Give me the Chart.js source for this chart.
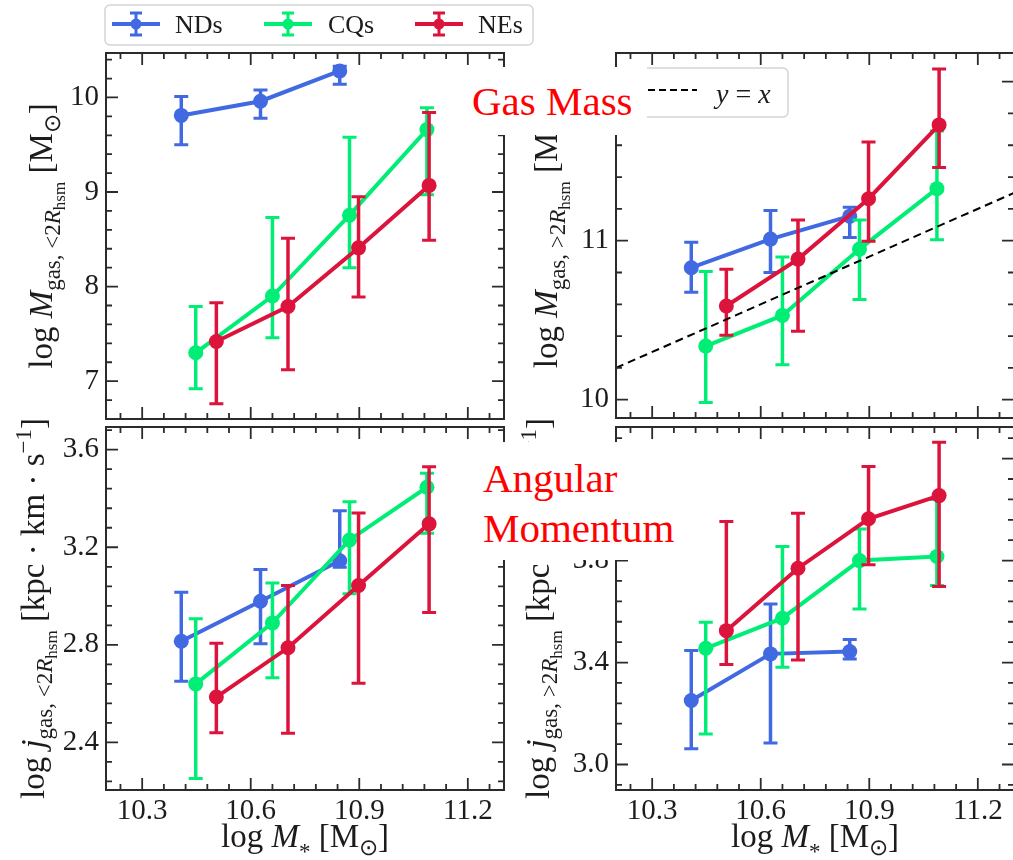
<!DOCTYPE html>
<html>
<head>
<meta charset="utf-8">
<script src="https://cdn.jsdelivr.net/npm/chart.js@4.4.1/dist/chart.umd.min.js"></script>
<style>
    html, body { margin: 0; padding: 0; background: #fff; }
    #wrap { position: relative; width: 1013px; height: 860px; overflow: hidden; background: #fff; }
    #wrap canvas { position: absolute; left: 0; top: 0; }
    .note {
        position: absolute; background: #fff; color: #ff0000; box-sizing: border-box;
        font-family: "Liberation Serif", serif; font-size: 41px; line-height: 50px; white-space: nowrap;
    }
</style>
</head>
<body>
<div id="wrap">
    <canvas id="cTL" width="1013" height="860"></canvas>
    <canvas id="cTR" width="1016" height="860"></canvas>
    <canvas id="cBL" width="1013" height="860"></canvas>
    <canvas id="cBR" width="1016" height="860"></canvas>
    <div class="note" style="left:455px;top:67px;width:192px;height:68px;padding:9px 0 0 17px;">Gas Mass</div>
    <div class="note" style="left:470px;top:442px;width:220px;height:118px;padding:11px 0 0 13px;">Angular<br>Momentum</div>
</div>
<script>
(function() {
    'use strict';

    /* ---- Data ---- */
    var groupNames = ['NDs', 'CQs', 'NEs'];
    var groupColors = ['#4169e1', '#00ee76', '#dc143c'];

    // log M* bin centres of each population
    var xND = [10.408, 10.627, 10.846];
    var xCQ = [10.448, 10.660, 10.873, 11.087];
    var xNE = [10.505, 10.703, 10.898, 11.093];

    // log M_gas inside 2 R_hsm
    var mInND = [9.81, 9.96, 10.28];
    var mInNDLo = [9.50, 9.78, 10.14];
    var mInNDHi = [10.01, 10.08, 10.33];
    var mInCQ = [7.30, 7.90, 8.755, 9.66];
    var mInCQLo = [6.92, 7.46, 8.20, 8.97];
    var mInCQHi = [7.79, 8.73, 9.58, 9.89];
    var mInNE = [7.42, 7.79, 8.41, 9.07];
    var mInNELo = [6.76, 7.12, 7.89, 8.49];
    var mInNEHi = [7.83, 8.51, 8.95, 9.84];

    // log M_gas outside 2 R_hsm
    var mOutND = [10.83, 11.01, 11.154];
    var mOutNDLo = [10.675, 10.80, 11.02];
    var mOutNDHi = [10.99, 11.19, 11.21];
    var mOutCQ = [10.337, 10.53, 10.947, 11.327];
    var mOutCQLo = [9.983, 10.22, 10.63, 11.006];
    var mOutCQHi = [10.806, 10.897, 11.13, 11.69];
    var mOutNE = [10.589, 10.884, 11.264, 11.728];
    var mOutNELo = [10.405, 10.43, 10.996, 11.46];
    var mOutNEHi = [10.82, 11.13, 11.62, 12.08];

    // log j_gas inside 2 R_hsm
    var jInND = [2.815, 2.979, 3.145];
    var jInNDLo = [2.651, 2.804, 3.118];
    var jInNDHi = [3.016, 3.109, 3.35];
    var jInCQ = [2.64, 2.89, 3.23, 3.446];
    var jInCQLo = [2.252, 2.665, 3.009, 3.257];
    var jInCQHi = [2.907, 3.054, 3.387, 3.503];
    var jInNE = [2.586, 2.788, 3.043, 3.296];
    var jInNELo = [2.44, 2.438, 2.643, 2.933];
    var jInNEHi = [2.807, 3.043, 3.34, 3.53];

    // log j_gas outside 2 R_hsm
    var jOutND = [3.251, 3.434, 3.443];
    var jOutNDLo = [3.062, 3.084, 3.414];
    var jOutNDHi = [3.447, 3.63, 3.49];
    var jOutCQ = [3.456, 3.574, 3.80, 3.816];
    var jOutCQLo = [3.12, 3.382, 3.61, 3.702];
    var jOutCQHi = [3.558, 3.855, 3.924, 4.04];
    var jOutNE = [3.525, 3.77, 3.964, 4.055];
    var jOutNELo = [3.392, 3.41, 3.784, 3.698];
    var jOutNEHi = [3.953, 3.986, 4.169, 4.264];

    var identityLine = [10.2, 11.3];

    /* ---- Axis ticks ---- */
    var xTicks = [10.3, 10.6, 10.9, 11.2];
    var yTicksTL = [7, 8, 9, 10];
    var yTicksTR = [10, 11, 12];
    var yTicksBL = [2.4, 2.8, 3.2, 3.6];
    var yTicksBR = [3.0, 3.4, 3.8, 4.2];

    var INK = '#1c1c1c';
    var MATH = '"Liberation Serif", serif';
    var TICKFONT = '"Liberation Serif", serif';
    var LABEL_SIZE = 33;

    function minorTicks(majors, step, min, max) {
        var out = [], v;
        for (v = majors[0] - step; v > min + 1e-6; v -= step) out.push(v);
        for (v = majors[0] + step; v < max - 1e-6; v += step) out.push(v);
        return out;
    }

    function fontOf(p, size) {
        return (p.it ? 'italic ' : '') + Math.round(size * (p.s || 1)) + 'px ' + MATH;
    }

    // rich (sub/superscript) label, centred on (x, y) baseline
    function drawRich(ctx, parts, size, x, y, rot, align) {
        ctx.save();
        ctx.translate(x, y);
        if (rot) ctx.rotate(rot);
        ctx.fillStyle = INK;
        ctx.textAlign = 'left';
        ctx.textBaseline = 'alphabetic';
        var total = 0;
        parts.forEach(function(p) { ctx.font = fontOf(p, size); p.w = ctx.measureText(p.t).width; total += p.w; });
        var cx = align === 'left' ? 0 : -total / 2;
        parts.forEach(function(p) {
            ctx.font = fontOf(p, size);
            ctx.fillText(p.t, cx, (p.dy || 0) * size);
            cx += p.w;
        });
        ctx.restore();
    }

    function roundBox(ctx, x, y, w, h, r) {
        ctx.beginPath();
        if (ctx.roundRect) ctx.roundRect(x, y, w, h, r); else ctx.rect(x, y, w, h);
        ctx.fillStyle = 'rgba(255,255,255,0.85)';
        ctx.fill();
        ctx.strokeStyle = '#d4d4d4';
        ctx.lineWidth = 1.5;
        ctx.stroke();
    }

    /* ---- Plugins ---- */
    var errorBarPlugin = {
        id: 'errorBars',
        beforeDatasetDraw: function(chart, args) {
            var ds = chart.data.datasets[args.index];
            if (!ds.errLo) return;
            var sx = chart.scales.x, sy = chart.scales.y, ctx = chart.ctx;
            ctx.save();
            ctx.strokeStyle = ds.borderColor;
            ds.data.forEach(function(p, i) {
                var px = sx.getPixelForValue(p.x);
                var y0 = sy.getPixelForValue(ds.errLo[i]);
                var y1 = sy.getPixelForValue(ds.errHi[i]);
                ctx.lineWidth = 3.5;
                ctx.beginPath(); ctx.moveTo(px, y0); ctx.lineTo(px, y1); ctx.stroke();
                ctx.lineWidth = 3;
                ctx.beginPath();
                ctx.moveTo(px - 7, y0); ctx.lineTo(px + 7, y0);
                ctx.moveTo(px - 7, y1); ctx.lineTo(px + 7, y1);
                ctx.stroke();
            });
            ctx.restore();
        }
    };

    var framePlugin = {
        id: 'frame',
        afterDatasetsDraw: function(chart, args, o) {
            var a = chart.chartArea, ctx = chart.ctx, sx = chart.scales.x, sy = chart.scales.y;
            ctx.save();
            ctx.strokeStyle = '#2b2b2b';
            ctx.lineWidth = 2;
            ctx.strokeRect(a.left, a.top, a.right - a.left, a.bottom - a.top);
            ctx.lineWidth = 1.8;
            ctx.beginPath();
            function tx(v, len) {
                var p = sx.getPixelForValue(v);
                ctx.moveTo(p, a.bottom); ctx.lineTo(p, a.bottom - len);
                ctx.moveTo(p, a.top); ctx.lineTo(p, a.top + len);
            }
            function ty(v, len) {
                var p = sy.getPixelForValue(v);
                ctx.moveTo(a.left, p); ctx.lineTo(a.left + len, p);
                ctx.moveTo(a.right, p); ctx.lineTo(a.right - len, p);
            }
            xTicks.forEach(function(v) { tx(v, 12); });
            minorTicks(xTicks, 0.06, sx.min, sx.max).forEach(function(v) { tx(v, 6); });
            o.yTicks.forEach(function(v) { ty(v, 12); });
            minorTicks(o.yTicks, o.yMinor, sy.min, sy.max).forEach(function(v) { ty(v, 6); });
            ctx.stroke();
            ctx.restore();
        },
        afterDraw: function(chart, args, o) {
            var a = chart.chartArea, ctx = chart.ctx;
            drawRich(ctx, o.ylabel, LABEL_SIZE, o.ylabelX, (a.top + a.bottom) / 2, -Math.PI / 2);
            if (o.xlabel) drawRich(ctx, o.xlabel, LABEL_SIZE, (a.left + a.right) / 2, 847, 0);
            if (o.mainLegend) drawMainLegend(ctx);
            if (o.identityLegend) drawIdentityLegend(ctx);
        }
    };

    function drawMainLegend(ctx) {
        var hx = [136, 288, 439], txt = [175, 328, 478];
        ctx.save();
        roundBox(ctx, 105, 5, 428, 40, 5);
        groupNames.forEach(function(name, g) {
            var c = groupColors[g];
            ctx.strokeStyle = c; ctx.fillStyle = c;
            ctx.lineWidth = 4;
            ctx.beginPath(); ctx.moveTo(hx[g] - 24, 24); ctx.lineTo(hx[g] + 24, 24); ctx.stroke();
            ctx.lineWidth = 3;
            ctx.beginPath();
            ctx.moveTo(hx[g], 13); ctx.lineTo(hx[g], 35);
            ctx.moveTo(hx[g] - 6, 13); ctx.lineTo(hx[g] + 6, 13);
            ctx.moveTo(hx[g] - 6, 35); ctx.lineTo(hx[g] + 6, 35);
            ctx.stroke();
            ctx.beginPath(); ctx.arc(hx[g], 24, 5.5, 0, Math.PI * 2); ctx.fill();
            ctx.fillStyle = INK;
            ctx.font = '26px ' + TICKFONT;
            ctx.textBaseline = 'alphabetic';
            ctx.fillText(name, txt[g], 33);
        });
        ctx.restore();
    }

    function drawIdentityLegend(ctx) {
        ctx.save();
        roundBox(ctx, 600, 68, 188, 49, 5);
        ctx.strokeStyle = '#000'; ctx.lineWidth = 2; ctx.setLineDash([7, 4]);
        ctx.beginPath(); ctx.moveTo(626, 90); ctx.lineTo(697, 90); ctx.stroke();
        ctx.restore();
        drawRich(ctx, [{ t: 'y', it: 1 }, { t: ' = ' }, { t: 'x', it: 1 }], 28, 716, 103, 0, 'left');
    }

    /* ---- Panels ---- */
    function series(xs, ys, lo, hi, g) {
        return {
            label: groupNames[g],
            data: xs.map(function(x, i) { return { x: x, y: ys[i] }; }),
            errLo: lo, errHi: hi,
            borderColor: groupColors[g], backgroundColor: groupColors[g],
            pointBackgroundColor: groupColors[g], pointBorderWidth: 0,
            borderWidth: 4, pointRadius: 7.5, tension: 0, order: 3 - g
        };
    }

    var subIn = [{ t: 'gas, <2', s: 0.7, dy: 0.25 }, { t: 'R', it: 1, s: 0.7, dy: 0.25 }, { t: 'hsm', s: 0.5, dy: 0.4 }];
    var subOut = [{ t: 'gas, >2', s: 0.7, dy: 0.25 }, { t: 'R', it: 1, s: 0.7, dy: 0.25 }, { t: 'hsm', s: 0.5, dy: 0.4 }];
    var unitMass = [{ t: ' [M' }, { t: '\u2299', s: 0.7, dy: 0.25 }, { t: ']' }];
    var unitJ = [{ t: ' [kpc \u00b7 km \u00b7 s' }, { t: '\u22121', s: 0.7, dy: -0.4 }, { t: ']' }];
    var xLabel = [{ t: 'log ' }, { t: 'M', it: 1 }, { t: '*', s: 0.7, dy: 0.35 }, { t: ' [M' }, { t: '\u2299', s: 0.7, dy: 0.25 }, { t: ']' }];

    var panels = [
        {
            id: 'cTL', area: [106, 53, 504, 419], yMin: 6.6, yMax: 10.47, yTicks: yTicksTL, yMinor: 0.2, yDec: 0,
            ylabel: [{ t: 'log ' }, { t: 'M', it: 1 }].concat(subIn, unitMass), ylabelX: 52, mainLegend: true,
            datasets: [series(xND, mInND, mInNDLo, mInNDHi, 0), series(xCQ, mInCQ, mInCQLo, mInCQHi, 1), series(xNE, mInNE, mInNELo, mInNEHi, 2)]
        },
        {
            id: 'cTR', area: [616, 53, 1014, 418], yMin: 9.885, yMax: 12.18, yTicks: yTicksTR, yMinor: 0.2, yDec: 0,
            ylabel: [{ t: 'log ' }, { t: 'M', it: 1 }].concat(subOut, unitMass), ylabelX: 557, identityLegend: true,
            datasets: [series(xND, mOutND, mOutNDLo, mOutNDHi, 0), series(xCQ, mOutCQ, mOutCQLo, mOutCQHi, 1), series(xNE, mOutNE, mOutNELo, mOutNEHi, 2), {
                label: 'y = x',
                data: identityLine.map(function(v) { return { x: v, y: v }; }),
                borderColor: '#000', borderWidth: 2, borderDash: [8, 5], pointRadius: 0, order: 0
            }]
        },
        {
            id: 'cBL', area: [106, 427, 504, 790], yMin: 2.205, yMax: 3.693, yTicks: yTicksBL, yMinor: 0.08, yDec: 1,
            ylabel: [{ t: 'log ' }, { t: 'j', it: 1 }].concat(subIn, unitJ), ylabelX: 44, xlabel: xLabel,
            datasets: [series(xND, jInND, jInNDLo, jInNDHi, 0), series(xCQ, jInCQ, jInCQLo, jInCQHi, 1), series(xNE, jInNE, jInNELo, jInNEHi, 2)]
        },
        {
            id: 'cBR', area: [616, 427, 1014, 790], yMin: 2.9, yMax: 4.324, yTicks: yTicksBR, yMinor: 0.08, yDec: 1,
            ylabel: [{ t: 'log ' }, { t: 'j', it: 1 }].concat(subOut, unitJ), ylabelX: 549, xlabel: xLabel,
            datasets: [series(xND, jOutND, jOutNDLo, jOutNDHi, 0), series(xCQ, jOutCQ, jOutCQLo, jOutCQHi, 1), series(xNE, jOutNE, jOutNELo, jOutNEHi, 2)]
        }
    ];

    var Y_W = 100;

    panels.forEach(function(p) {
        var canvas = document.getElementById(p.id);
        var W = canvas.width, H = canvas.height;
        var xh = p.xlabel ? 40 : 0;
        new Chart(canvas.getContext('2d'), {
            type: 'line',
            data: { datasets: p.datasets },
            plugins: [errorBarPlugin, framePlugin],
            options: {
                responsive: false, animation: false, devicePixelRatio: 1,
                events: [],
                layout: {
                    autoPadding: false,
                    padding: { left: p.area[0] - Y_W, top: p.area[1], right: W - p.area[2], bottom: H - p.area[3] - xh }
                },
                plugins: {
                    legend: { display: false },
                    tooltip: { enabled: false },
                    frame: {
                        yTicks: p.yTicks, yMinor: p.yMinor, ylabel: p.ylabel, ylabelX: p.ylabelX,
                        xlabel: p.xlabel, mainLegend: p.mainLegend, identityLegend: p.identityLegend
                    }
                },
                scales: {
                    x: {
                        type: 'linear', position: 'bottom', min: identityLine[0], max: identityLine[1],
                        afterFit: function(s) { s.height = xh; },
                        afterBuildTicks: function(s) { s.ticks = xTicks.map(function(v) { return { value: v }; }); },
                        grid: { display: false, drawTicks: false },
                        border: { display: false },
                        ticks: {
                            display: !!p.xlabel, padding: 4, color: INK, maxRotation: 0, autoSkip: false,
                            font: { family: TICKFONT, size: 29 },
                            callback: function(v) { return v.toFixed(1); }
                        }
                    },
                    y: {
                        type: 'linear', position: 'left', min: p.yMin, max: p.yMax,
                        afterFit: function(s) { s.width = Y_W; },
                        afterBuildTicks: function(s) { s.ticks = p.yTicks.map(function(v) { return { value: v }; }); },
                        grid: { display: false, drawTicks: false },
                        border: { display: false },
                        ticks: {
                            padding: 7, color: INK, autoSkip: false,
                            font: { family: TICKFONT, size: 29 },
                            callback: function(v) { return v.toFixed(p.yDec); }
                        }
                    }
                }
            }
        });
    });
})();
</script>
</body>
</html>
